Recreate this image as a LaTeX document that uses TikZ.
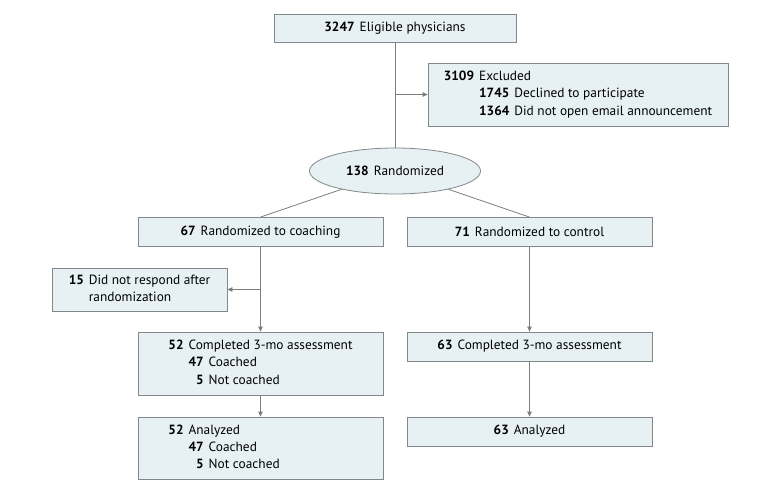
\documentclass[tikz,border=0pt]{standalone}
\usepackage{fontspec}
\setmainfont{PT Sans}
\usetikzlibrary{arrows.meta,shapes.geometric}
\definecolor{boxfill}{RGB}{231,241,243}
\definecolor{boxline}{RGB}{130,136,138}
\definecolor{flowgray}{RGB}{125,125,125}
\newcommand{\cnt}[2]{\textbf{#1}\hspace{5bp}#2}

\begin{document}
\begin{tikzpicture}[x=1bp, y=-1bp,
    box/.style={rectangle, draw=boxline, fill=boxfill, line width=0.8bp, inner sep=0pt, minimum height=29bp, minimum width=245bp, align=center, font=\fontsize{13.4}{17.5}\selectfont},
    oval/.style={ellipse, draw=boxline, fill=boxfill, line width=0.8bp, inner sep=0pt, minimum width=171bp, minimum height=46bp, font=\fontsize{13.4}{17.5}\selectfont},
    link/.style={draw=flowgray, line width=0.8bp},
    flow/.style={link, -{Triangle[length=5bp,width=4.5bp]}, flowgray}
]
\useasboundingbox (0,0) rectangle (780,492);

% ============ enrollment ============
\node[box, minimum width=242bp, minimum height=28bp] (elig) at (395,28) {\cnt{3247}{Eligible physicians}};
\node[box, minimum width=300bp, minimum height=63bp] (excl) at (578,94.5) {%
  \begin{tabular}{@{}r@{\hspace{5bp}}r@{\hspace{5bp}}l@{}}
  \textbf{3109} & \multicolumn{2}{@{}l@{}}{Excluded}\\
   & \textbf{1745} & Declined to participate\\
   & \textbf{1364} & Did not open email announcement
  \end{tabular}};
\node[oval] (rand) at (395,171) {\cnt{138}{Randomized}};

\draw[link] (elig) -- (rand);
\draw[flow] (elig.south |- excl.west) -- (excl.west);

% ============ allocation ============
\node[box] (coach) at (260.5,232) {\cnt{67}{Randomized to coaching}};
\node[box] (ctrl) at (529.5,232) {\cnt{71}{Randomized to control}};

\draw[link] (rand) -- (coach.north);
\draw[link] (rand) -- (ctrl.north);

% ============ follow-up ============
\node[box, minimum width=175bp, minimum height=43bp] (noresp) at (139.5,289.5) {%
  \begin{tabular}{@{}r@{\hspace{5bp}}l@{}}
  \textbf{15} & Did not respond after\\
   & randomization
  \end{tabular}};
\node[box, minimum height=63bp] (donec) at (260.5,363.5) {%
  \begin{tabular}{@{}r@{\hspace{5bp}}r@{\hspace{5bp}}l@{}}
  \textbf{52} & \multicolumn{2}{@{}l@{}}{Completed 3-mo assessment}\\
   & \textbf{47} & Coached\\
   & \textbf{5} & Not coached
  \end{tabular}};
\node[box] (donek) at (529.5,346.5) {\cnt{63}{Completed 3-mo assessment}};

\draw[flow] (coach) -- (donec);
\draw[flow] (coach.south |- noresp.east) -- (noresp.east);
\draw[flow] (ctrl) -- (donek);

% ============ analysis ============
\node[box, minimum height=62bp] (anac) at (260.5,448) {%
  \begin{tabular}{@{}r@{\hspace{5bp}}r@{\hspace{5bp}}l@{}}
  \textbf{52} & \multicolumn{2}{@{}l@{}}{\rlap{Analyzed}\phantom{Completed 3-mo assessment}}\\
   & \textbf{47} & Coached\\
   & \textbf{5} & Not coached
  \end{tabular}};
\node[box] (anak) at (529.5,431.5) {\cnt{63}{Analyzed}};

\draw[flow] (donec) -- (anac);
\draw[flow] (donek) -- (anak);

\end{tikzpicture}
\end{document}
